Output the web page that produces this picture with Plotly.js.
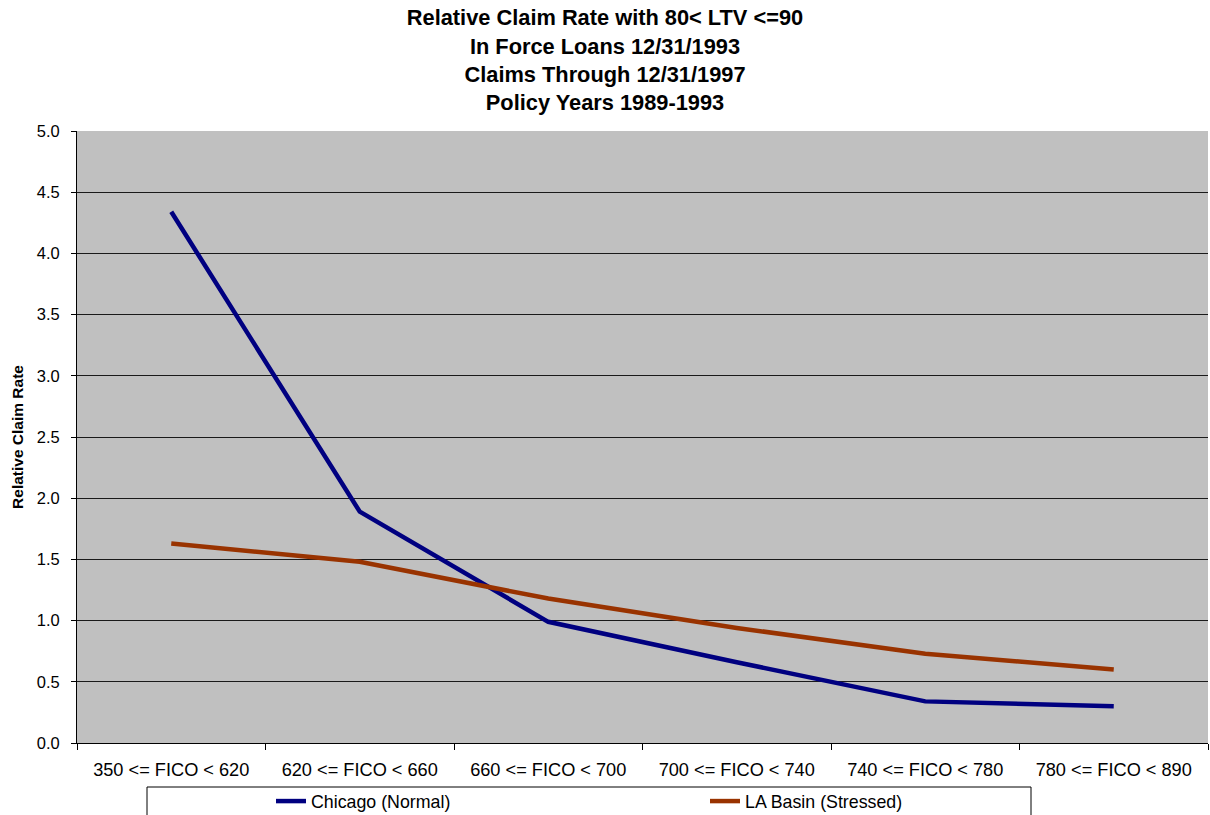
<!DOCTYPE html>
<html>
<head>
<meta charset="utf-8">
<script src="https://cdn.plot.ly/plotly-3.0.1.min.js"></script>
<style>html,body{margin:0;padding:0;background:#fff;overflow:hidden;}#chart{width:1210px;height:815px;}</style>
</head>
<body>
<div id="chart"></div>
<script>
const categories = ["350 <= FICO < 620", "620 <= FICO < 660", "660 <= FICO < 700", "700 <= FICO < 740", "740 <= FICO < 780", "780 <= FICO < 890"];
const chicago = [4.34, 1.89, 0.99, 0.66, 0.34, 0.30];
const laBasin = [1.63, 1.48, 1.18, 0.94, 0.73, 0.60];
const seriesNames = ["Chicago (Normal)", "LA Basin (Stressed)"];
const yTicks = [0, 0.5, 1, 1.5, 2, 2.5, 3, 3.5, 4, 4.5, 5];

const W = 1210, H = 815, L = 77, R = 2, T = 131, B = 72;
const pw = W - L - R, ph = H - T - B;
const px = x => (x - L) / pw;
const py = y => (H - B - y) / ph;

const traces = [
  {x: categories, y: chicago, name: seriesNames[0], type: "scatter", mode: "lines",
   line: {color: "#000080", width: 4.5}},
  {x: categories, y: laBasin, name: seriesNames[1], type: "scatter", mode: "lines",
   line: {color: "#993300", width: 4.5}}
];

const layout = {
  width: W, height: H,
  margin: {l: L, r: R, t: T, b: B, pad: 0, autoexpand: false},
  paper_bgcolor: "#ffffff",
  plot_bgcolor: "#c0c0c0",
  font: {family: "Liberation Sans, Arial, sans-serif", size: 17, color: "#000"},
  title: {
    text: "<b>Relative Claim Rate with 80< LTV <=90<br>In Force Loans 12/31/1993<br>Claims Through 12/31/1997<br>Policy Years 1989-1993</b>",
    font: {size: 21.8, color: "#000"},
    x: 0.5, xref: "container", xanchor: "center",
    y: 0.969, yref: "container", yanchor: "top"
  },
  xaxis: {
    type: "category",
    showgrid: false,
    showline: true, linecolor: "#000", linewidth: 1,
    ticks: "outside", ticklen: 6, tickcolor: "#000",
    tickson: "boundaries",
    tickfont: {size: 18.2},
    ticklabelstandoff: 10,
    range: [-0.5, 5.5],
    automargin: false
  },
  yaxis: {
    range: [0, 5],
    tickvals: yTicks,
    tickformat: ".1f",
    showgrid: true, gridcolor: "#1a1a1a", gridwidth: 1,
    showline: true, linecolor: "#000", linewidth: 1,
    ticks: "outside", ticklen: 5, tickcolor: "#000",
    ticklabelstandoff: 8,
    zeroline: false,
    tickfont: {size: 16.5},
    automargin: false,
    title: {text: "<b>Relative Claim Rate</b>", font: {size: 15.5}, standoff: 9}
  },
  showlegend: true,
  legend: {
    orientation: "h",
    x: px(271), xanchor: "left",
    y: py(783), yanchor: "top",
    bgcolor: "rgba(0,0,0,0)",
    borderwidth: 0,
    font: {size: 17.8},
    entrywidth: 389, entrywidthmode: "pixels",
    traceorder: "normal"
  },
  shapes: [
    {type: "rect", xref: "paper", yref: "paper",
     x0: px(147), x1: px(1031), y0: py(830), y1: py(787),
     line: {color: "#000", width: 1}, fillcolor: "#fff", layer: "below"}
  ]
};

Plotly.newPlot("chart", traces, layout, {displayModeBar: false, staticPlot: true});
</script>
</body>
</html>
